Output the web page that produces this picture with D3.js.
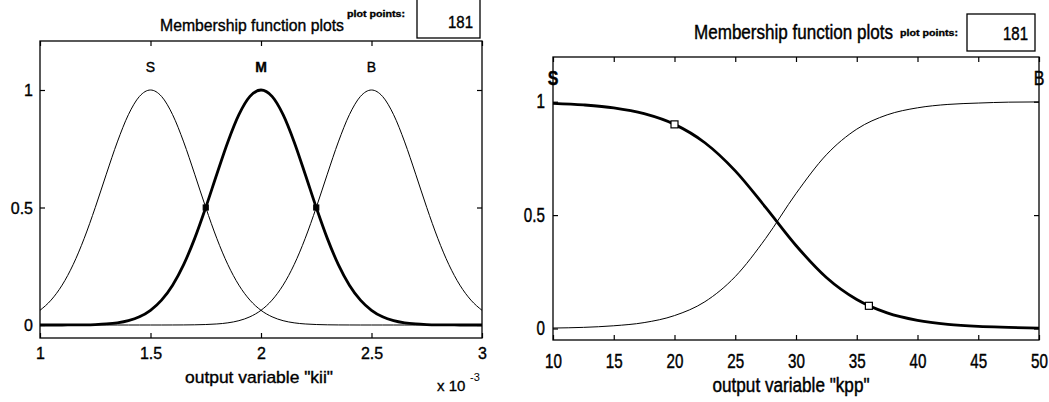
<!DOCTYPE html>
<html>
<head>
<meta charset="utf-8">
<script src="https://cdn.jsdelivr.net/npm/d3@7"></script>
<style>
  html, body { margin: 0; padding: 0; background: #fff; }
  svg { display: block; }
  text { font-family: "Liberation Sans", Arial, sans-serif; fill: #000; }
  .heavy { stroke: #000; stroke-width: 0.35px; }
</style>
</head>
<body>
<svg id="chart" width="1049" height="402"></svg>
<script>
// ---------- DATA ----------
// Left plot: output variable "kii" (x in units of 1e-3)
const kiiX = [1.00,1.05,1.10,1.15,1.20,1.25,1.30,1.35,1.40,1.45,1.50,1.55,1.60,1.65,1.70,1.75,1.80,1.85,1.90,1.95,
              2.00,2.05,2.10,2.15,2.20,2.25,2.30,2.35,2.40,2.45,2.50,2.55,2.60,2.65,2.70,2.75,2.80,2.85,2.90,2.95,3.00];
const kiiS = [0.0625,0.1058,0.1696,0.2570,0.3686,0.5,0.6417,0.7791,0.8950,0.9727,1,0.9727,0.8950,0.7791,0.6417,0.5,0.3686,0.2570,0.1696,0.1058,
              0.0625,0.0349,0.0184,0.0092,0.0044,0.0020,0.0008,0.0003,0.0001,0,0,0,0,0,0,0,0,0,0,0,0];
const kiiM = [0,0,0.0001,0.0003,0.0008,0.0020,0.0044,0.0092,0.0184,0.0349,0.0625,0.1058,0.1696,0.2570,0.3686,0.5,0.6417,0.7791,0.8950,0.9727,
              1,0.9727,0.8950,0.7791,0.6417,0.5,0.3686,0.2570,0.1696,0.1058,0.0625,0.0349,0.0184,0.0092,0.0044,0.0020,0.0008,0.0003,0.0001,0,0];
const kiiB = [0,0,0,0,0,0,0,0,0,0,0,0,0.0001,0.0003,0.0008,0.0020,0.0044,0.0092,0.0184,0.0349,
              0.0625,0.1058,0.1696,0.2570,0.3686,0.5,0.6417,0.7791,0.8950,0.9727,1,0.9727,0.8950,0.7791,0.6417,0.5,0.3686,0.2570,0.1696,0.1058,0.0625];
const kiiMFNames = ["S","M","B"];
const kiiMFCenters = [1.5, 2, 2.5];
const kiiSelected = "M";
const kiiHandleX = [1.75, 2.25];
const kiiHandleY = [0.5, 0.5];
const kiiTicks = [1, 1.5, 2, 2.5, 3];

// Right plot: output variable "kpp"
const kppX = [10,12.5,15,17.5,20,22.5,25,27.5,30,32.5,35,37.5,40,42.5,45,47.5,50];
const kppS = [0.993,0.986,0.973,0.947,0.900,0.819,0.695,0.534,0.366,0.225,0.128,0.069,0.036,0.018,0.009,0.005,0.002];
const kppB = [0.002,0.005,0.012,0.026,0.057,0.118,0.229,0.397,0.595,0.766,0.879,0.942,0.973,0.988,0.994,0.998,0.999];
const kppMFNames = ["S","B"];
const kppMFCenters = [10, 50];
const kppSelected = "S";
const kppHandleX = [20, 36];
const kppHandleY = [0.9, 0.1];
const kppTicks = [10,15,20,25,30,35,40,45,50];

const yTicks = [0, 0.5, 1];
const headerTitle = "Membership function plots";
const headerPointsLabel = "plot points:";
const headerPoints = "181";

// ---------- DRAWING ----------
const svg = d3.select("#chart");

function txt(g, x, y, s, o) {
  o = o || {};
  const t = g.append("text")
    .attr("transform", `translate(${x},${y}) scale(${o.sx || 1},${o.sy || 1})`)
    .attr("font-size", o.size || 14)
    .attr("font-weight", o.weight || "normal")
    .attr("text-anchor", o.anchor || "start")
    .attr("class", o.heavy ? "heavy" : null)
    .text(s);
  if (o.len) t.attr("textLength", o.len).attr("lengthAdjust", "spacingAndGlyphs");
  return t;
}

function panel(cfg) {
  const g = svg.append("g");
  const L = cfg.frame.l, R = cfg.frame.r, T = cfg.frame.t, B = cfg.frame.b;
  const x = d3.scaleLinear().domain(cfg.xDomain).range([L, R]);
  const y = d3.scaleLinear().domain([0, 1]).range(cfg.yRange);

  // curves
  const line = d3.line().x(d => x(d[0])).y(d => y(d[1])).curve(d3.curveMonotoneX);
  cfg.series.forEach((s, i) => {
    const pts = cfg.xs.map((v, j) => [v, s[j]]);
    const sel = cfg.names[i] === cfg.selected;
    g.append("path").attr("d", line(pts)).attr("fill", "none")
      .attr("stroke", "#000").attr("stroke-width", sel ? 2.8 : 1)
      .attr("stroke-linejoin", "round");
  });

  // handles
  cfg.hx.forEach((hx, i) => {
    const s = cfg.handleSize;
    g.append("rect").attr("x", x(hx) - s / 2).attr("y", y(cfg.hy[i]) - s / 2)
      .attr("width", s).attr("height", s)
      .attr("fill", cfg.handleFill).attr("stroke", "#000").attr("stroke-width", 1.2);
  });

  // axes (inward ticks)
  const ax = [
    g.append("g").attr("transform", `translate(0,${B})`)
      .call(d3.axisBottom(x).tickValues(cfg.xTicks).tickSize(-5).tickSizeOuter(0).tickFormat(d3.format("~g"))),
    g.append("g").attr("transform", `translate(0,${T})`)
      .call(d3.axisTop(x).tickValues(cfg.xTicks).tickSize(-5).tickSizeOuter(0).tickFormat("")),
    g.append("g").attr("transform", `translate(${L},0)`)
      .call(d3.axisLeft(y).tickValues(yTicks).tickSize(-5).tickSizeOuter(0).tickFormat(d3.format("~g"))),
    g.append("g").attr("transform", `translate(${R},0)`)
      .call(d3.axisRight(y).tickValues(yTicks).tickSize(-5).tickSizeOuter(0).tickFormat(""))
  ];
  ax.forEach(a => { a.select(".domain").remove(); a.selectAll("line").attr("stroke", "#000").attr("stroke-width", 1.2); });
  ax[0].selectAll("text").attr("y", null).attr("dy", null)
    .attr("font-size", cfg.tickSize).attr("font-family", null).attr("class", "heavy")
    .attr("transform", `translate(0,${cfg.xLabOff}) scale(${cfg.tickSx},${cfg.tickSy})`);
  ax[2].selectAll("text").attr("x", null).attr("dy", null)
    .attr("font-size", cfg.tickSize).attr("font-family", null).attr("class", "heavy")
    .attr("transform", `translate(${-cfg.yLabPad},${cfg.yLabOff}) scale(${cfg.tickSx},${cfg.tickSy})`);

  // frame
  g.append("rect").attr("x", L).attr("y", T).attr("width", R - L).attr("height", B - T)
    .attr("fill", "none").attr("stroke", "#000").attr("stroke-width", 1.3);

  // MF labels
  cfg.names.forEach((n, i) => {
    txt(g, x(cfg.centers[i]), cfg.mfLabY, n, {anchor: "middle", size: cfg.mfSize, sy: cfg.mfSy, heavy: true,
      weight: n === cfg.selected ? "bold" : "normal"});
  });

  // axis title
  txt(g, cfg.title.x, cfg.title.y, cfg.title.text, {anchor: "middle", size: 16, sy: cfg.title.sy, len: cfg.title.len, heavy: true});

  // header
  const h = cfg.header;
  txt(g, h.tx, h.ty, headerTitle, {size: 16, sy: h.sy, len: h.tlen, heavy: true});
  txt(g, h.px, h.py, headerPointsLabel, {size: 10, weight: "bold", sy: 0.9, len: h.plen, heavy: true});
  g.append("rect").attr("x", h.bx).attr("y", h.by).attr("width", h.bw).attr("height", h.bh)
    .attr("fill", "#fff").attr("stroke", "#000").attr("stroke-width", 1.3);
  txt(g, h.nx, h.ny, headerPoints, {size: 15, anchor: "end", sy: h.sy, heavy: true});
  return {g, x, y};
}

const left = panel({
  frame: {l: 40, r: 482, t: 41, b: 338},
  xDomain: [1, 3], yRange: [325, 90],
  xs: kiiX, series: [kiiS, kiiM, kiiB], names: kiiMFNames, centers: kiiMFCenters, selected: kiiSelected,
  hx: kiiHandleX, hy: kiiHandleY, xTicks: kiiTicks, handleSize: 5, handleFill: "#000",
  tickSize: 16, tickSx: 1.0, tickSy: 1.0, xLabOff: 21, yLabPad: 7, yLabOff: 5.5,
  mfLabY: 72, mfSize: 14, mfSy: 1.0,
  title: {x: 259, y: 383, text: 'output variable "kii"', len: 148, sy: 1.05},
  header: {tx: 160, ty: 31, tlen: 184, sy: 1.05, px: 347, py: 17, plen: 58,
           bx: 417, by: -2, bw: 63, bh: 40, nx: 473, ny: 28}
});
// exponent label
txt(left.g, 437, 391, "x 10", {size: 15, heavy: true});
txt(left.g, 470, 381, "-3", {size: 11});

const right = panel({
  frame: {l: 553, r: 1039, t: 57, b: 340},
  xDomain: [10, 50], yRange: [328.5, 101.7],
  xs: kppX, series: [kppS, kppB], names: kppMFNames, centers: kppMFCenters, selected: kppSelected,
  hx: kppHandleX, hy: kppHandleY, xTicks: kppTicks, handleSize: 7, handleFill: "#fff",
  tickSize: 16, tickSx: 0.95, tickSy: 1.25, xLabOff: 28, yLabPad: 8, yLabOff: 6,
  mfLabY: 85, mfSize: 16, mfSy: 1.25,
  title: {x: 791, y: 392, text: 'output variable "kpp"', len: 157, sy: 1.25},
  header: {tx: 694, ty: 39, tlen: 199, sy: 1.25, px: 900, py: 36, plen: 58,
           bx: 967, by: 14, bw: 68, bh: 37, nx: 1028, ny: 40}
});
</script>
</body>
</html>
